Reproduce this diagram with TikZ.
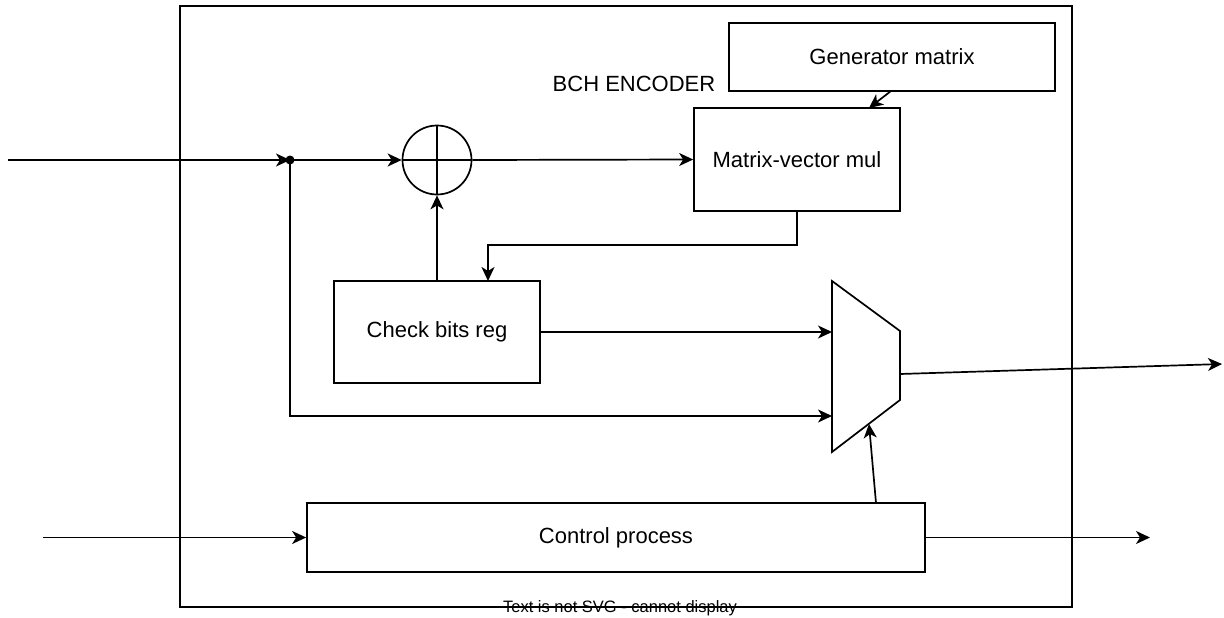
\documentclass[tikz,border=0pt]{standalone}
\usepackage{fontspec}
\setmainfont{Liberation Sans}
\usetikzlibrary{arrows.meta}
\begin{document}
\begin{tikzpicture}[x=1pt,y=-1pt,
  line width=1.7pt,
  every node/.style={font=\fontsize{22}{26}\selectfont},
  blk/.style={draw, rectangle, inner sep=0pt},
  arr/.style={-{Stealth[length=14pt,width=13pt,inset=4pt]}},
  lbl/.style={inner sep=0pt}]
\useasboundingbox (0,0) rectangle (1224,618);
% outer box
\draw (180,6) rectangle (1072,607);
\node[lbl] (title) at (634,84) {BCH ENCODER};
% blocks
\node[blk, minimum width=326pt, minimum height=68pt] (gen) at (892,57) {Generator matrix};
\node[blk, minimum width=206pt, minimum height=103pt] (mvm) at (797,159.5) {Matrix-vector mul};
\node[blk, minimum width=206pt, minimum height=102pt] (cbr) at (437,332) {Check bits reg};
\node[blk, minimum width=618pt, minimum height=69pt] (ctl) at (616,537.5) {Control process};
% xor
\node[draw, circle, minimum size=69pt, inner sep=0pt] (xor) at (437,160) {};
\draw (xor.north) -- (xor.south);
\draw (xor.west) -- (xor.east);
% mux
\coordinate (m1) at (832,281);
\coordinate (m2) at (900,331);
\coordinate (m3) at (900,400);
\coordinate (m4) at (832,452);
\draw (m1) -- (m2) -- (m3) -- (m4) -- cycle;
\coordinate (muxA) at (832,332);
\coordinate (muxB) at (832,416);
\coordinate (muxS) at (869,424);
\coordinate (muxO) at (900,374);
% junction
\coordinate (j) at (290,160);
\fill (j) circle (4.5pt);
\coordinate (inA) at (8,160);
\coordinate (inB) at (43,537.5);
\coordinate (outA) at (1222,364);
\coordinate (outB) at (1150,537.5);
% connectors
\draw[arr] (inA) -- (j);
\draw[arr] (j) -- (xor.west);
\draw[arr] (xor.east) -- (mvm.west);
\draw[arr] (891,91) -- (869,108);
\draw[arr] (mvm.south) -- (797,245) -- (488,245) -- (488,281);
\draw[arr] (cbr.north) -- (xor.south);
\draw[arr] (cbr.east) -- (muxA);
\draw[arr] (j) -- (290,416) -- (muxB);
\draw[arr] (876,503) -- (muxS);
\draw[arr] (muxO) -- (outA);
\draw[arr] (inB) -- (ctl.west);
\draw[arr] (ctl.east) -- (outB);
\node[lbl, font=\fontsize{16.5}{19}\selectfont] (warn) at (620,608) {Text is not SVG - cannot display};
\end{tikzpicture}
\end{document}
